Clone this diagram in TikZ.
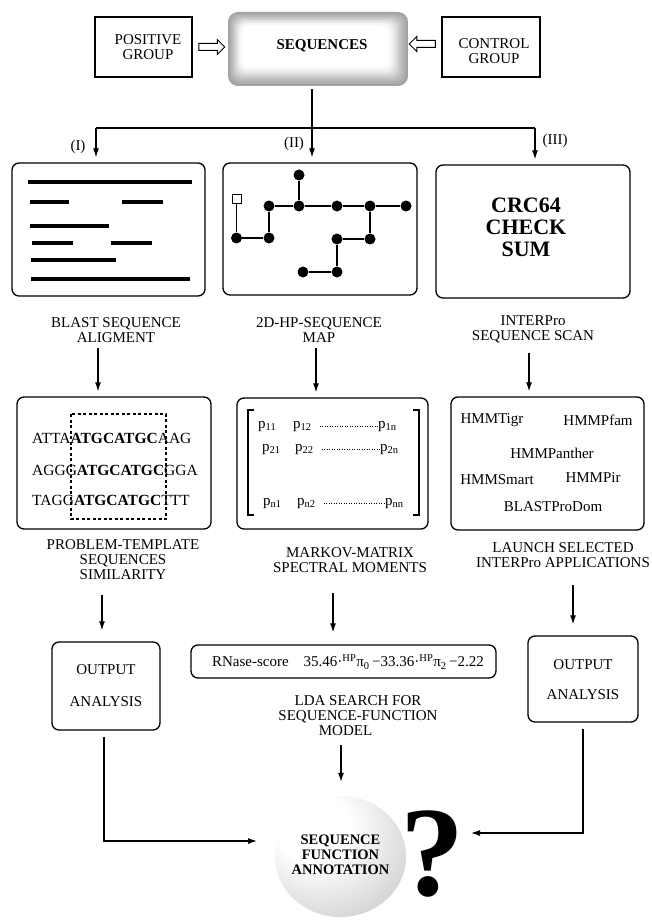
\documentclass[tikz,border=0pt]{standalone}
\usepackage{fontspec}
\setmainfont{Liberation Serif}
\usetikzlibrary{arrows.meta,shapes.arrows,shapes.geometric,calc}
\pgfdeclareradialshading{ballshade}{\pgfpoint{-12bp}{14bp}}{color(0bp)=(white); color(14bp)=(white); color(40bp)=(black!20); color(60bp)=(black!40); color(80bp)=(black!50)}
\begin{document}
\begin{tikzpicture}[x=1pt,y=-1pt,
  txt/.style={font=\fontsize{15}{15}\selectfont, align=center, inner sep=0pt},
  box/.style={draw, line width=1.3pt, rounded corners=7pt, inner sep=0pt},
  sqbox/.style={draw, line width=1.2pt, inner sep=0pt},
  conn/.style={line width=1.2pt},
  arr/.style={line width=1.2pt, -{Latex[length=9pt,width=6pt]}},
  bar/.style={line width=4.5pt},
  hp/.style={circle, fill, inner sep=0pt, minimum size=11pt},
  hpsq/.style={draw, fill=white, line width=1pt, inner sep=0pt, minimum size=9pt},
  hpline/.style={line width=1.4pt},
  hollow/.style={single arrow, draw, line width=1pt, minimum height=26pt, inner sep=3pt,
    single arrow head extend=4pt, single arrow head indent=0pt},
  seqbox/.style={rounded corners=10pt, minimum width=180pt, minimum height=74pt, inner sep=0pt,
    path picture={
      \foreach \i/\c in {0/36,2/32,4/28,6/23,8/18,10/13,12/8,14/4,16/1,18/0}{
        \fill[black!\c, rounded corners=9pt] ([xshift=\i*0.8pt, yshift=-\i*0.8pt]path picture bounding box.north west) rectangle ([xshift=-\i*1.1pt, yshift=\i*1.1pt]path picture bounding box.south east);
      }}},
  mat/.style={font=\fontsize{15}{15}\selectfont, inner sep=0pt, anchor=base west},
  dots/.style={line width=0.9pt, dash pattern=on 0.9pt off 1.6pt},
  seqtxt/.style={font=\fontsize{15.5}{15.5}\selectfont, inner sep=0pt, anchor=west}
]
\useasboundingbox (0,0) rectangle (651,920);
\fill[white] (0,0) rectangle (651,920);

% top row
\node[sqbox, minimum width=97pt, minimum height=60pt] (pos) at (143.5,47) {};
\node[txt] (post) at (148,47.5) {POSITIVE\\GROUP};
\node[seqbox] (seq) at (318,49) {};
\node[txt, font=\fontsize{15}{15}\selectfont\bfseries] (seqt) at (322,46) {SEQUENCES};
\node[sqbox, minimum width=98pt, minimum height=60pt] (ctl) at (491,47) {};
\node[txt] (ctlt) at (494,51) {CONTROL\\GROUP};
\node[hollow] (ar1) at (210,47) {};
\node[hollow, shape border rotate=180] (ar2) at (424,44) {};

% branching
\coordinate (jl) at (96,128);
\coordinate (jm) at (312,128);
\coordinate (jr) at (535,128);
\draw[conn] (seq.south -| jm) ++(0,3) -- (jm);
\draw[conn] (jl) -- (jr);

% first row boxes
\node[box, minimum width=193pt, minimum height=133pt] (b1) at (108.5,229.5) {};
\node[box, minimum width=194pt, minimum height=132pt] (b2) at (320,229) {};
\node[box, minimum width=194pt, minimum height=133pt] (b3) at (533,231.5) {};
\draw[arr, shorten >=5pt] (jl) -- (jl |- b1.north);
\draw[arr, shorten >=5pt] (jm) -- (jm |- b2.north);
\draw[arr, shorten >=5pt] (jr) -- (jr |- b3.north);
\node[txt] (l1) at (78,147) {(I)};
\node[txt] (l2) at (294,144) {(II)};
\node[txt] (l3) at (555,141) {(III)};

% bars
\draw[bar] (28,182) -- (192,182);
\draw[bar] (30,202) -- (69,202);
\draw[bar] (122,202) -- (163,202);
\draw[bar] (30,226) -- (109,226);
\draw[bar] (32,243) -- (73,243);
\draw[bar] (111,243) -- (152,243);
\draw[bar] (31,260) -- (116,260);
\draw[bar] (31,279) -- (190,279);

% HP map
\node[hpsq] (s0) at (236.5,199) {};
\node[hp] (a) at (236.5,238) {};
\node[hp] (b) at (269,238) {};
\node[hp] (c) at (269,206) {};
\node[hp] (d) at (299,206) {};
\node[hp] (e) at (299,175) {};
\node[hp] (f) at (337,206) {};
\node[hp] (g) at (370,206) {};
\node[hp] (h) at (406,206) {};
\node[hp] (i) at (370,239) {};
\node[hp] (j) at (337,239) {};
\node[hp] (k) at (337,272) {};
\node[hp] (l) at (303,272) {};
\draw[hpline] (s0) -- (a) -- (b) -- (c) -- (d) -- (e);
\draw[hpline] (d) -- (f) -- (g) -- (h);
\draw[hpline] (g) -- (i) -- (j) -- (k) -- (l);

% CRC
\node[txt, font=\fontsize{22}{22}\selectfont\bfseries] (crc) at (526,227) {CRC64\\CHECK\\SUM};

% captions row 1
\node[txt] (cap1) at (116,330) {BLAST SEQUENCE\\ALIGMENT};
\node[txt] (cap2) at (319,330) {2D-HP-SEQUENCE\\MAP};
\node[txt] (cap3) at (533,329) {INTERPro\\SEQUENCE SCAN};

% second row boxes
\node[box, minimum width=194pt, minimum height=132pt] (b1b) at (114,463) {};
\node[box, minimum width=191pt, minimum height=131pt] (b2b) at (332.5,463.5) {};
\node[box, minimum width=193pt, minimum height=133pt] (b3b) at (547.5,463.5) {};
\coordinate (c1) at (98,348);
\coordinate (c2) at (316,348);
\coordinate (c3) at (529,353);
\draw[arr, shorten >=5pt] (c1) -- (c1 |- b1b.north);
\draw[arr, shorten >=5pt] (c2) -- (c2 |- b2b.north);
\draw[arr, shorten >=5pt] (c3) -- (c3 |- b3b.north);

% sequences alignment
\node[seqtxt] (r1) at (32,438) {ATTA\textbf{ATGCATGC}AAG};
\node[seqtxt] (r2) at (32,470) {AGGG\textbf{ATGCATGC}GGA};
\node[seqtxt] (r3) at (32,500) {TAGG\textbf{ATGCATGC}TTT};
\draw[line width=1.1pt, dash pattern=on 3pt off 2.5pt] (71,414) rectangle (166,519);

% matrix
\draw[line width=1.1pt] (254,410) -- (248,410) -- (248,515) -- (254,515);
\draw[line width=1.1pt] (413,410) -- (419,410) -- (419,515) -- (413,515);
\node[mat] (p11) at (258,428) {p\textsubscript{11}};
\node[mat] (p12) at (293,428) {p\textsubscript{12}};
\node[mat] (p1n) at (378,428) {p\textsubscript{1n}};
\node[mat] (p21) at (262,451) {p\textsubscript{21}};
\node[mat] (p22) at (295,451) {p\textsubscript{22}};
\node[mat] (p2n) at (380,451) {p\textsubscript{2n}};
\node[mat] (pn1) at (263,505) {p\textsubscript{n1}};
\node[mat] (pn2) at (297,505) {p\textsubscript{n2}};
\node[mat] (pnn) at (385,505) {p\textsubscript{nn}};
\draw[dots, shorten <=8pt] ([yshift=2pt]p12.base east) -- ([yshift=2pt]p1n.base west);
\draw[dots, shorten <=8pt] ([yshift=2pt]p22.base east) -- ([yshift=2pt]p2n.base west);
\draw[dots, shorten <=8pt] ([yshift=2pt]pn2.base east) -- ([yshift=2pt]pnn.base west);

% interpro apps
\node[txt] (t1) at (492,420) {HMMTigr};
\node[txt] (t2) at (598,420) {HMMPfam};
\node[txt] (t3) at (552,453) {HMMPanther};
\node[txt] (t4) at (497,480) {HMMSmart};
\node[txt] (t5) at (593,478) {HMMPir};
\node[txt] (t6) at (553,507) {BLASTProDom};

% captions row 2
\node[txt] (cap4) at (123,560) {PROBLEM-TEMPLATE\\SEQUENCES\\SIMILARITY};
\node[txt] (cap5) at (350,560) {MARKOV-MATRIX\\SPECTRAL MOMENTS};
\node[txt] (cap6) at (563,555) {LAUNCH SELECTED\\INTERPro APPLICATIONS};

% third row
\node[box, minimum width=108pt, minimum height=88pt] (out1) at (106,686) {};
\node[txt] (out1t) at (106,686) {OUTPUT\\[17pt]ANALYSIS};
\node[box, minimum width=305pt, minimum height=33pt] (rn) at (343.5,661.5) {};
\node[txt] (rnt) at (348,662) {RNase-score\hspace{15pt}35.46·\textsuperscript{HP}π\textsubscript{0}\,−33.36·\textsuperscript{HP}π\textsubscript{2}\,−2.22};
\node[box, minimum width=110pt, minimum height=86pt] (out3) at (583,679) {};
\node[txt] (out3t) at (583,680) {OUTPUT\\[15pt]ANALYSIS};
\coordinate (d1) at (102,595);
\coordinate (d2) at (333,593);
\coordinate (d3) at (573,585);
\draw[arr, shorten >=11pt] (d1) -- (d1 |- out1.north);
\draw[arr, shorten >=12pt] (d2) -- (d2 |- rn.north);
\draw[arr, shorten >=11pt] (d3) -- (d3 |- out3.north);

\node[txt] (lda) at (358,716) {LDA SEARCH FOR\\SEQUENCE-FUNCTION\\MODEL\hspace*{25pt}};

% final
\node[ellipse, shading=ballshade, minimum width=131pt, minimum height=121pt, inner sep=0pt] (ell) at (340.5,856.5) {};
\node[txt, font=\fontsize{14.5}{15}\selectfont\bfseries] (ellt) at (340.5,855) {SEQUENCE\\FUNCTION\\ANNOTATION};
\node[inner sep=0pt, font=\fontsize{128}{128}\selectfont\bfseries] (qm) at (432,854) {?};
\coordinate (m1) at (341,745);
\draw[arr, shorten >=14pt] (m1) -- (m1 |- ell.north);
\coordinate (lend) at (257,841);
\coordinate (rend) at (471,833);
\draw[arr] (out1.south -| 104,0) ++(0,6) |- (lend);
\draw[arr] (out3.south) ++(0,6) |- (rend);
\end{tikzpicture}
\end{document}
